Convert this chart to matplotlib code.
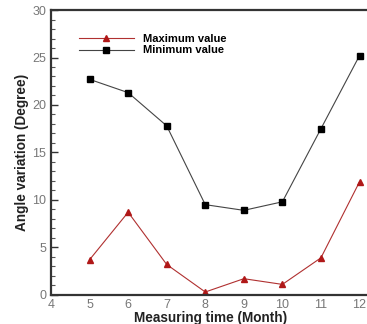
import numpy as np
import matplotlib.pyplot as plt
from matplotlib.ticker import MultipleLocator

plt.rcParams['font.family'] = 'Liberation Sans'

months = [5, 6, 7, 8, 9, 10, 11, 12]
max_value = [3.7, 8.7, 3.2, 0.3, 1.7, 1.1, 3.9, 11.9]
min_value = [22.7, 21.3, 17.8, 9.5, 8.9, 9.8, 17.5, 25.2]

fig = plt.figure(figsize=(3.67, 3.24), dpi=100)
ax = fig.add_axes([0.139, 0.09, 0.87, 0.879])

ax.plot(months, max_value, c='#b03030', lw=0.8, marker='^', ms=4.5,
        mfc='#b01818', mec='#b01818', label='Maximum value')
ax.plot(months, min_value, c='#444444', lw=0.8, marker='s', ms=4,
        mfc='black', mec='black', label='Minimum value')

ax.set_xlim(4, 12.28)
ax.set_ylim(0, 30)
ax.xaxis.set_major_locator(MultipleLocator(1))
ax.yaxis.set_major_locator(MultipleLocator(5))
ax.yaxis.set_minor_locator(MultipleLocator(1))
ax.tick_params(axis='y', which='major', direction='in', length=5, width=1, colors='#333333',
               labelcolor='#777777', labelsize=9)
ax.tick_params(axis='y', which='minor', direction='in', length=3, width=0.8, colors='#555555')
ax.tick_params(axis='x', which='major', length=0, labelcolor='#777777', labelsize=9, pad=3)

for s in ['left', 'bottom', 'top']:
    ax.spines[s].set_linewidth(1.6)
    ax.spines[s].set_color('#333333')
ax.spines['right'].set_visible(False)

ax.set_xlabel('Measuring time (Month)', fontsize=9.8, fontweight='bold', color='#222222', labelpad=0)
ax.set_ylabel('Angle variation (Degree)', fontsize=9.8, fontweight='bold', color='#222222', labelpad=2)

ax.legend(loc='upper left', bbox_to_anchor=(0.055, 0.95), frameon=False,
          handlelength=5, handletextpad=0.8, labelspacing=0.1,
          prop={'weight': 'bold', 'size': 8})

fig.savefig('out.png', dpi=100)
